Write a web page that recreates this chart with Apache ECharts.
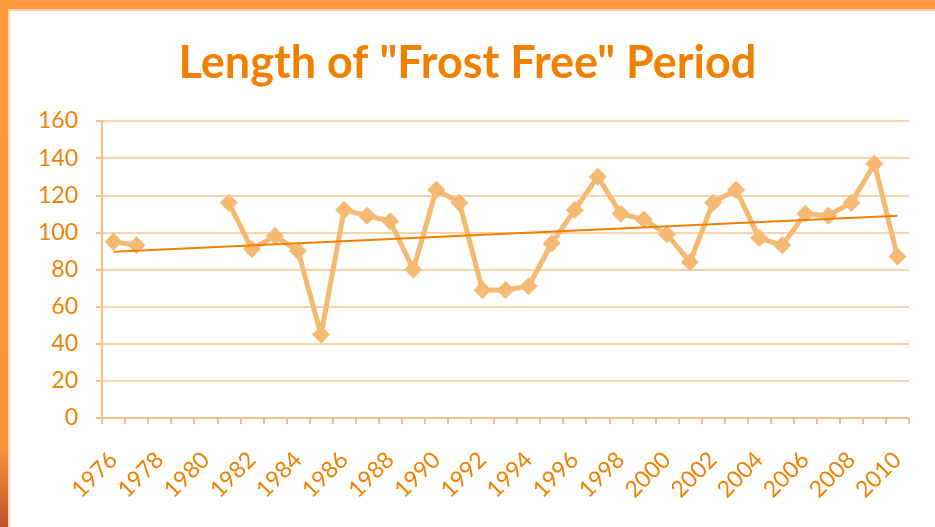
<!DOCTYPE html>
<html>
<head>
<meta charset="utf-8">
<script src="https://cdn.jsdelivr.net/npm/echarts@6/dist/echarts.min.js"></script>
<style>
  html, body { margin: 0; padding: 0; background: #fff; }
  #chart { width: 935px; height: 527px; }
</style>
</head>
<body>
<div id="chart"></div>
<script>
// years 1976..2010
const years = [];
for (let y = 1976; y <= 2010; y++) years.push(String(y));

// frost free days (null = no data)
const frostFree = [
    95, 93, null, null, null, 116, 91, 98, 90, 45,
    112, 109, 106, 80, 123, 116, 69, 69, 71, 94,
    112, 130, 110, 107, 99, 84, 116, 123, 97, 93,
    110, 109, 116, 137, 87
];

// linear trend end points
const trendYears = ['1976', '2010'];
const trendValues = [89.6, 109];

const orange = '#F08000';
const lightOrange = '#F5B972';

const chart = echarts.init(document.getElementById('chart'));

chart.setOption({
    backgroundColor: '#fff',
    animation: false,
    title: {
        text: 'Length of "Frost Free" Period',
        left: 'center',
        top: 36,
        textStyle: {
            color: orange,
            fontFamily: 'Lato',
            fontWeight: 'bold',
            fontSize: 45
        }
    },
    graphic: [
        // slide frame
        { type: 'rect', shape: { x: 0, y: 0, width: 935, height: 9 }, style: { fill: '#FF9A3C' } },
        { type: 'rect', shape: { x: 0, y: 9, width: 935, height: 2 }, style: { fill: '#FBD3AA' } },
        { type: 'rect', shape: { x: 0, y: 0, width: 8, height: 527 },
          style: { fill: new echarts.graphic.LinearGradient(0, 0, 0, 1, [
              { offset: 0, color: '#FF9A3C' },
              { offset: 0.85, color: '#F8953C' },
              { offset: 1, color: '#C0502A' }
          ]) } },
        { type: 'rect', shape: { x: 8, y: 9, width: 2, height: 518 }, style: { fill: '#FBD3AA' } }
    ],
    grid: {
        left: 102,
        right: 26,
        top: 121,
        bottom: 109
    },
    xAxis: {
        type: 'category',
        data: years,
        boundaryGap: true,
        axisLine: { lineStyle: { color: '#F5C08A', width: 2 } },
        axisTick: { show: true, interval: 0, length: 6, lineStyle: { color: '#F5C08A', width: 2 } },
        axisLabel: {
            interval: 1,
            rotate: 45,
            color: orange,
            fontFamily: 'Lato',
            fontSize: 23,
            margin: 38
        },
        splitLine: { show: false }
    },
    yAxis: {
        type: 'value',
        min: 0,
        max: 160,
        interval: 20,
        axisLine: { show: true, lineStyle: { color: '#F5C08A', width: 2 } },
        axisTick: { show: true, length: 6, lineStyle: { color: '#F5C08A', width: 2 } },
        axisLabel: {
            color: orange,
            fontFamily: 'Lato',
            fontSize: 23,
            margin: 24
        },
        splitLine: { lineStyle: { color: '#F9D2A8', width: 2 } }
    },
    series: [
        {
            name: 'Frost Free',
            type: 'line',
            data: frostFree,
            connectNulls: false,
            showAllSymbol: true,
            symbol: 'diamond',
            symbolSize: 18,
            itemStyle: { color: lightOrange },
            lineStyle: { color: lightOrange, width: 5 },
            z: 2
        },
        {
            name: 'Trend',
            type: 'line',
            data: trendYears.map((y, i) => [y, trendValues[i]]),
            symbol: 'none',
            lineStyle: { color: orange, width: 2 },
            z: 3
        }
    ]
});
</script>
</body>
</html>
